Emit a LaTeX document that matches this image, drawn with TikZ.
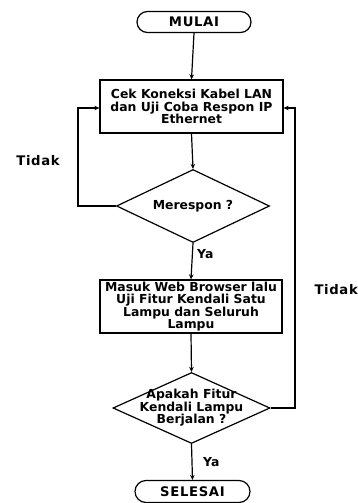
\documentclass[tikz,border=0pt]{standalone}
\usepackage{fontspec}
\setmainfont{DejaVu Sans}
\usetikzlibrary{shapes.geometric,shapes.misc,arrows.meta}
\newfontfamily\spacedfont[LetterSpace=5]{DejaVu Sans}
\begin{document}
\begin{tikzpicture}[x=1pt,y=-1pt,
  every node/.style={font=\bfseries\fontsize{12.4}{12.6}\selectfont},
  terminal/.style={draw,line width=1.2pt,rounded rectangle,minimum width=114pt,minimum height=21pt,inner sep=0pt,font=\spacedfont\bfseries\fontsize{13.2}{13}\selectfont},
  procbox/.style={draw,line width=1.2pt,rectangle,minimum width=183pt,minimum height=53pt,inner sep=0pt,align=center},
  decision/.style={draw,line width=1.2pt,diamond,inner sep=0pt,aspect=2},
  flow/.style={line width=1.2pt,-{Stealth[length=5pt,width=4.5pt]}},
  lbl/.style={inner sep=0pt},
  sidelbl/.style={inner sep=0pt,font=\spacedfont\bfseries\fontsize{13.2}{13}\selectfont}
]
\useasboundingbox (0,0) rectangle (357,503);
\node[terminal] (mulai) at (194,22) {MULAI};
\node[procbox] (box1) at (191.5,106.5) {Cek Koneksi Kabel LAN\\dan Uji Coba Respon IP\\Ethernet};
\node[decision,minimum width=153pt,minimum height=73pt] (dec1) at (193,206) {};
\node[lbl] (t1) at (dec1.center) {Merespon ?};
\node[procbox,minimum width=182pt] (box2) at (191,306.5) {Masuk Web Browser lalu\\Uji Fitur Kendali Satu\\Lampu dan Seluruh\\Lampu};
\node[decision,minimum width=157pt,minimum height=71pt] (dec2) at (191.5,408) {};
\node[lbl,align=center] (t2) at (dec2.center) {Apakah Fitur\\Kendali Lampu\\Berjalan ?};
\node[terminal,minimum width=115pt,minimum height=22pt] (selesai) at (192.5,491.5) {SELESAI};

\coordinate (l1) at (78,206);
\coordinate (l2) at (78,108);
\coordinate (r1) at (295,408);
\coordinate (r2) at (295,108);

\draw[flow] (mulai.south) -- (box1.north);
\draw[flow] (box1.south) -- (dec1.north);
\draw[flow] (dec1.south) -- (box2.north);
\draw[flow] (box2.south) -- (dec2.north);
\draw[flow] (dec2.south) -- (selesai.north);
\draw[flow] (dec1.west) -- (l1) -- (l2) -- (box1.west |- l2);
\draw[flow] (dec2.east) -- (r1) -- (r2) -- (box1.east |- r2);

\node[lbl,anchor=west] (ya1) at (197,254) {Ya};
\node[lbl,anchor=west] (ya2) at (203,462) {Ya};
\node[sidelbl] (tidak1) at (38,161) {Tidak};
\node[sidelbl,anchor=east] (tidak2) at (358,290) {Tidak};
\end{tikzpicture}
\end{document}
